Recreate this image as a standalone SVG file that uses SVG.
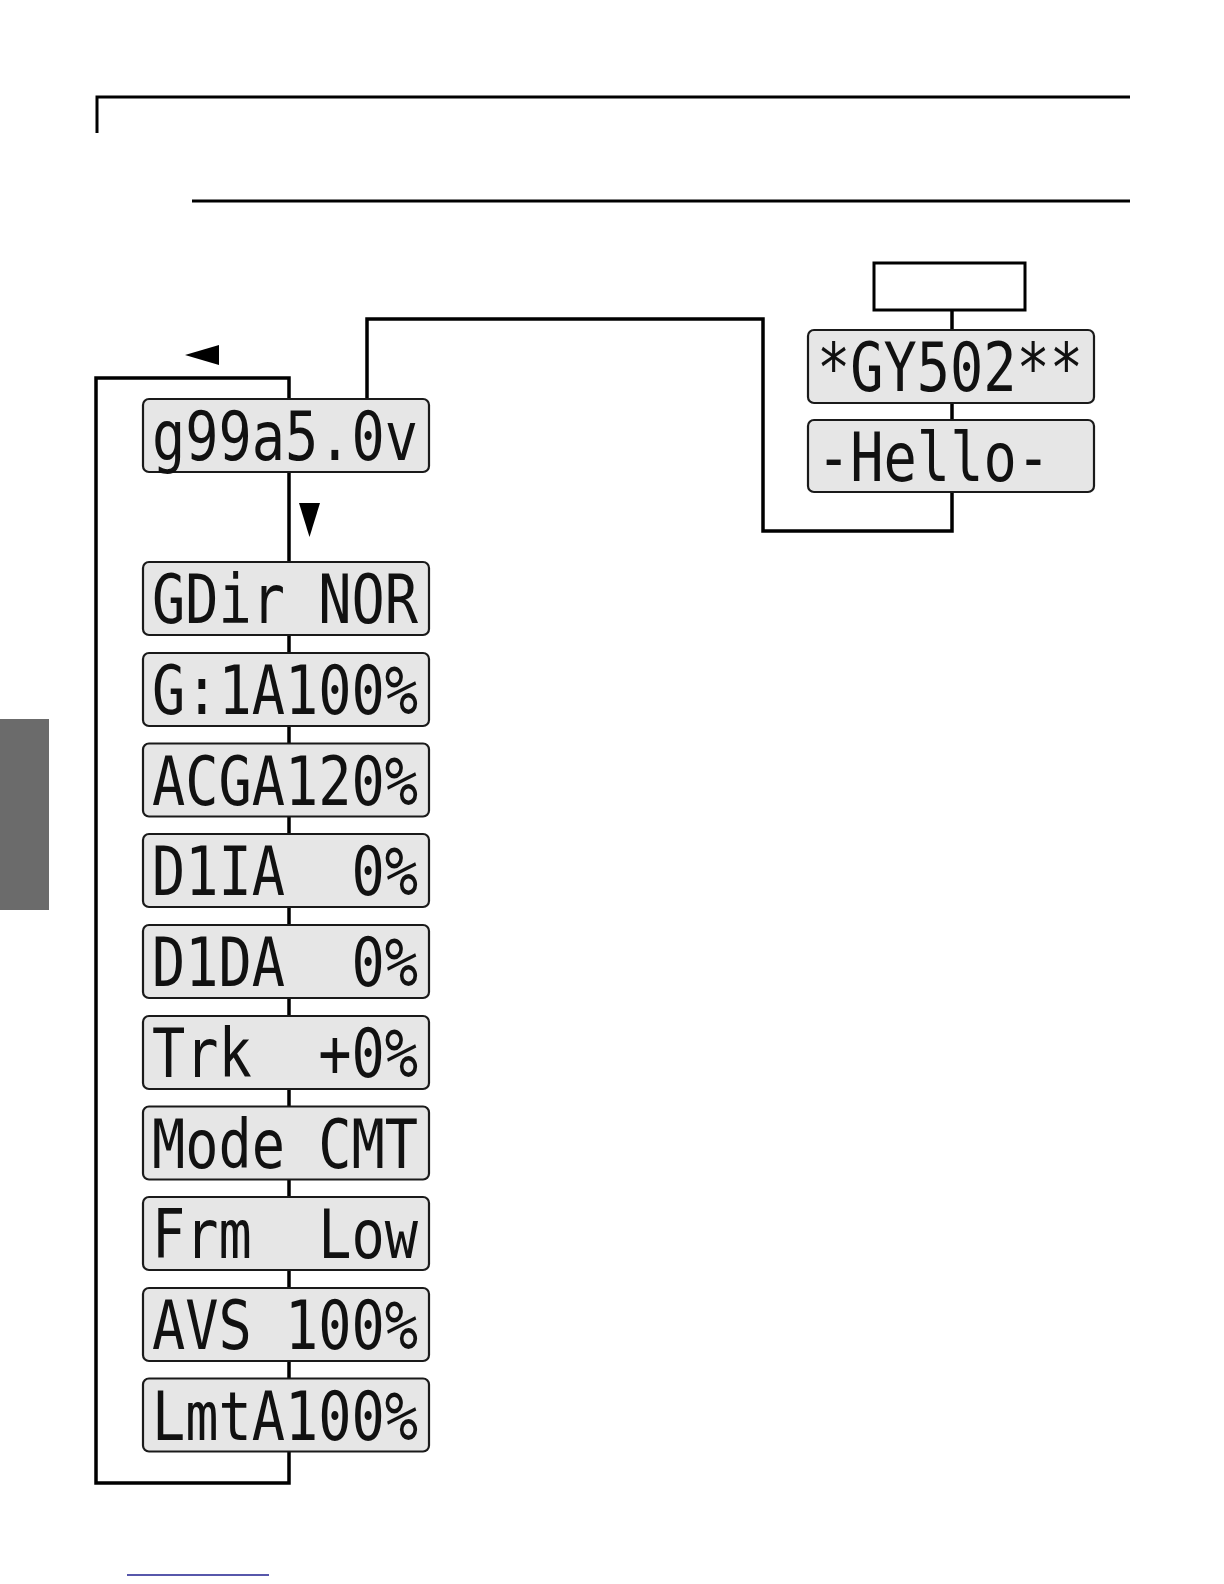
<svg xmlns="http://www.w3.org/2000/svg" width="1224" height="1584" viewBox="0 0 1224 1584">
<style>
.lcd{fill:#e6e6e6;stroke:#1a1a1a;stroke-width:2.2}
.lt{font-family:"DejaVu Sans Mono","Liberation Mono",monospace;font-size:68px;fill:#111;white-space:pre}
.ln{fill:none;stroke:#000;stroke-width:3.5}
</style>
<rect width="1224" height="1584" fill="#fff"/>
<g id="header">
<polyline fill="none" stroke="#000" stroke-width="3" points="97,133 97,97 1130,97"/>
<line stroke="#000" stroke-width="3" x1="192" y1="201" x2="1130" y2="201"/>
</g>
<rect id="side-tab" x="0" y="719" width="49" height="191" fill="#6b6b6b"/>
<g id="connectors">
<polyline class="ln" points="289,399 289,378 96,378 96,1483 289,1483 289,1451"/>
<line class="ln" x1="289" y1="472" x2="289" y2="1379"/>
<polyline class="ln" points="367,399 367,319 763,319 763,531 952,531 952,492"/>
<line class="ln" x1="952" y1="310" x2="952" y2="330"/>
<line class="ln" x1="952" y1="403" x2="952" y2="420"/>
<polygon points="185,355 219,345 219,365" fill="#000"/>
<polygon points="299,503 320,503 309.5,537" fill="#000"/>
</g>
<g id="n_blank"><rect x="874" y="263" width="151" height="47" fill="#fff" stroke="#000" stroke-width="3"/></g>
<g id="n_gy502"><rect class="lcd" x="808" y="330" width="286" height="73" rx="6"/><text class="lt" x="817" y="391" textLength="266" lengthAdjust="spacingAndGlyphs">*GY502**</text></g>
<g id="n_hello"><rect class="lcd" x="808" y="420" width="286" height="72" rx="6"/><text class="lt" x="817" y="481" textLength="233" lengthAdjust="spacingAndGlyphs">-Hello-</text></g>
<g id="n_ver"><rect class="lcd" x="143" y="399" width="286" height="73" rx="6"/><text class="lt" x="152" y="460" textLength="266" lengthAdjust="spacingAndGlyphs">g99a5.0v</text></g>
<g id="n_gdir"><rect class="lcd" x="143" y="562" width="286" height="73" rx="6"/><text class="lt" x="152" y="623" textLength="266" lengthAdjust="spacingAndGlyphs">GDir NOR</text></g>
<g id="n_gain"><rect class="lcd" x="143" y="653" width="286" height="73" rx="6"/><text class="lt" x="152" y="714" textLength="266" lengthAdjust="spacingAndGlyphs">G:1A100%</text></g>
<g id="n_acga"><rect class="lcd" x="143" y="743.5" width="286" height="73" rx="6"/><text class="lt" x="152" y="804.5" textLength="266" lengthAdjust="spacingAndGlyphs">ACGA120%</text></g>
<g id="n_d1ia"><rect class="lcd" x="143" y="834" width="286" height="73" rx="6"/><text class="lt" x="152" y="895" textLength="266" lengthAdjust="spacingAndGlyphs">D1IA  0%</text></g>
<g id="n_d1da"><rect class="lcd" x="143" y="925" width="286" height="73" rx="6"/><text class="lt" x="152" y="986" textLength="266" lengthAdjust="spacingAndGlyphs">D1DA  0%</text></g>
<g id="n_trk"><rect class="lcd" x="143" y="1016" width="286" height="73" rx="6"/><text class="lt" x="152" y="1077" textLength="266" lengthAdjust="spacingAndGlyphs">Trk  +0%</text></g>
<g id="n_mode"><rect class="lcd" x="143" y="1106.5" width="286" height="73" rx="6"/><text class="lt" x="152" y="1167.5" textLength="266" lengthAdjust="spacingAndGlyphs">Mode CMT</text></g>
<g id="n_frm"><rect class="lcd" x="143" y="1197" width="286" height="73" rx="6"/><text class="lt" x="152" y="1258" textLength="266" lengthAdjust="spacingAndGlyphs">Frm  Low</text></g>
<g id="n_avs"><rect class="lcd" x="143" y="1288" width="286" height="73" rx="6"/><text class="lt" x="152" y="1349" textLength="266" lengthAdjust="spacingAndGlyphs">AVS 100%</text></g>
<g id="n_lmta"><rect class="lcd" x="143" y="1378.5" width="286" height="73" rx="6"/><text class="lt" x="152" y="1439.5" textLength="266" lengthAdjust="spacingAndGlyphs">LmtA100%</text></g>
<line id="footer-link" x1="127" y1="1575" x2="269" y2="1575" stroke="#1f1f8f" stroke-width="1.5"/>
</svg>
